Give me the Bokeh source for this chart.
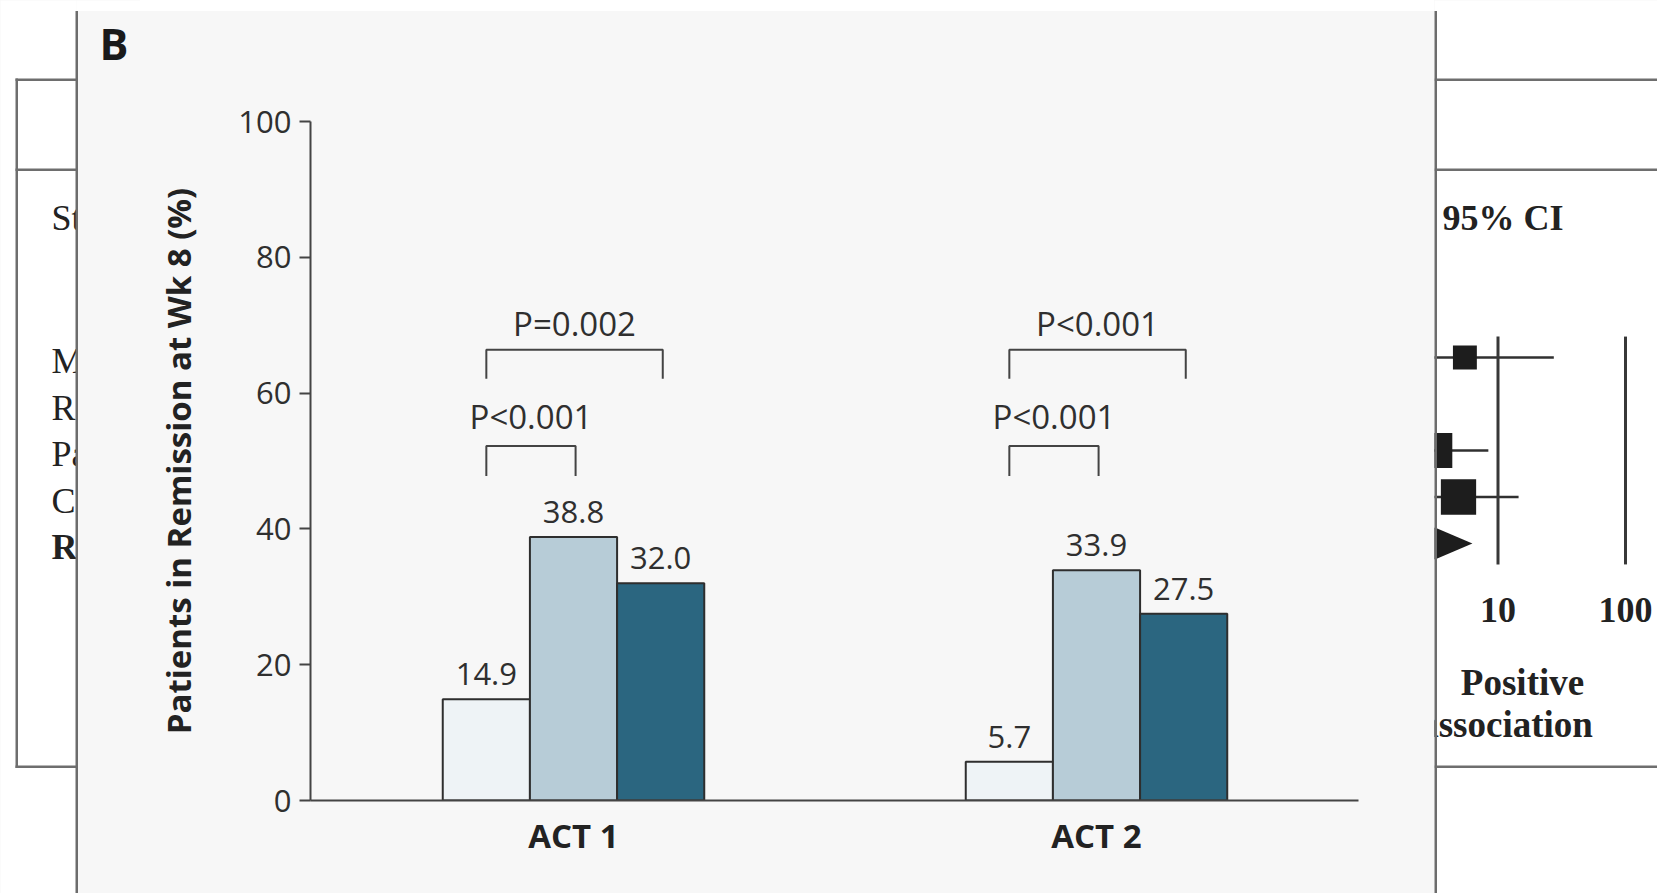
from bokeh.plotting import figure
from bokeh.layouts import row, column
from bokeh.models import Range1d, FixedTicker, LinearScale, Spacer
from bokeh.embed import file_html
from bokeh.resources import INLINE
from bokeh.core.properties import value

# Clinical remission at week 8 (%) in the two ACT trials
trials = ["ACT 1", "ACT 2"]
placebo = [14.9, 5.7]
ifx_5mg = [38.8, 33.9]
ifx_10mg = [32.0, 27.5]
p_5mg_vs_placebo = ["P<0.001", "P<0.001"]
p_10mg_vs_placebo = ["P=0.002", "P<0.001"]
y_ticks = [0, 20, 40, 60, 80, 100]
y_title = "Patients in Remission at Wk 8 (%)"
panel_letter = "B"

# Forest plot partly hidden behind the panel
forest_header = ["Study", "95% CI"]
forest_rows = ["Moss", "Roth", "Park", "Cole", "RE"]
forest_est = [5.5, 1.8, 3.2, 4.9, 3.2]
forest_low = [1.2, 0.9, 1.3, 1.6, 1.9]
forest_high = [27.4, 3.0, 8.4, 14.5, 6.3]
forest_weight = [17, 10, 36, 37]
forest_ticks = [10, 100]
forest_note = ["Positive", "association"]

# ---- page geometry (pixels) ----
H = 893
LEFT_W = 140          # strip left of the bar panel
MAIN_W = 1294         # bar panel (y axis + plot area)
RIGHT_W = 223         # strip right of the bar panel
TOP_GAP = 11          # white band above the panel
FRAME_L = 170         # y-axis border inside the bar panel
FRAME_T = 110
FRAME_B = 93
PX_X = 523.0          # pixels per trial slot
FRAME_H = H - TOP_GAP - FRAME_T - FRAME_B
PX_Y = FRAME_H / 100.0
TEXT_DROP = 0.41      # svg text sits this many em below its requested baseline

# forest rows: row r sits at 357 + 46.5 r pixels from the top
ROW_PX, ROW0 = 46.5, 357.0
forest_y = Range1d((H - ROW0) / ROW_PX, -ROW0 / ROW_PX)

SANS = value("Open Sans")
SERIF = value("Liberation Serif")
INK = "#2f2f2f"
LINE = "#444444"
EDGE = "#6c6c6c"
RULE = "#6e6e6e"
PANEL = "#f7f7f7"
COLORS = ["#eef3f6", "#b7ccd7", "#2b6680"]


def bare(width, x_range, y_range, bg, **kw):
    f = figure(width=width, height=H, output_backend="svg", toolbar_location=None,
               x_range=x_range, y_range=y_range, x_axis_location=None,
               y_axis_location=None, min_border=0, min_border_left=0,
               min_border_right=0, min_border_top=0, min_border_bottom=0,
               outline_line_color=None, background_fill_color=bg,
               border_fill_color=bg, **kw)
    f.grid.visible = False
    return f


# ---- left strip: forest-plot margin, panel edge, panel letter ----
left = bare(LEFT_W, Range1d(0, LEFT_W), Range1d(H, 0), PANEL)
left.extra_y_ranges = {"forest": forest_y}
left.quad(left=[-5, 76], right=[76, LEFT_W + 5], top=[-5, -5],
          bottom=[H + 10, TOP_GAP - 0.5], fill_color="white", line_color=None)
left.quad(left=[15, 15, 15, 15], right=[90, 90, 90, 17.5],
          top=[78, 168, 765, 78], bottom=[80.5, 170.5, 767.5, 767.5],
          fill_color=RULE, line_color=None)
left.text(x=[51], y=[-3], text=[forest_header[0]], y_range_name="forest",
          text_font=SERIF, text_font_size="36px", text_color="#222222",
          text_baseline="middle")
rows_idx = list(range(len(forest_rows)))
left.text(x=[51] * len(rows_idx), y=[r + 0.08 for r in rows_idx],
          text=forest_rows, y_range_name="forest",
          text_font=SERIF, text_font_size="36px", text_color="#222222",
          text_font_style=["normal"] * (len(rows_idx) - 1) + ["bold"],
          text_baseline="middle")
left.quad(left=[76], right=[LEFT_W + 5], top=[TOP_GAP - 0.5], bottom=[H + 10],
          fill_color=PANEL, line_color=None)
left.quad(left=[75], right=[77.5], top=[TOP_GAP - 0.5], bottom=[H + 10],
          fill_color=EDGE, line_color=None)
left.text(x=[99], y=[61 - TEXT_DROP * 43], text=[panel_letter], text_font=SANS,
          text_font_style="bold", text_font_size="43px", text_color="#1a1a1a",
          text_baseline="alphabetic")

# ---- right strip: visible part of the forest plot ----
X0 = LEFT_W + MAIN_W                       # page x of the strip's left edge
DEC_PX, TEN_PX = 127.5, 1497.5             # pixels per decade, page x of 10
lg0 = 1 + (X0 - TEN_PX) / DEC_PX
lg1 = 1 + (X0 + RIGHT_W - TEN_PX) / DEC_PX
right = bare(RIGHT_W, Range1d(10 ** lg0, 10 ** lg1), forest_y, "white",
             x_axis_type="log")
right.extra_x_ranges = {"px": Range1d(X0, X0 + RIGHT_W)}
right.extra_x_scales = {"px": LinearScale()}
right.extra_y_ranges = {"px": Range1d(H, 0)}
right.extra_y_scales = {"px": LinearScale()}

right.quad(left=[X0] * 3, right=[X0 + RIGHT_W + 5] * 3, top=[78, 168, 765],
           bottom=[80.5, 170.5, 767.5], fill_color=RULE, line_color=None,
           x_range_name="px", y_range_name="px")
study_rows = rows_idx[:-1]
right.segment(x0=forest_low[:-1], y0=study_rows, x1=forest_high[:-1],
              y1=study_rows, line_color="#303030", line_width=2.5)
right.scatter(x=forest_est[:-1], y=study_rows,
              size=[5.8 * w ** 0.5 for w in forest_weight], marker="square",
              fill_color="#1d1d1d", line_color=None)
r_sum = rows_idx[-1]
right.patch(x=[forest_low[-1], forest_est[-1], forest_high[-1], forest_est[-1]],
            y=[r_sum, r_sum - 0.345, r_sum, r_sum + 0.345],
            fill_color="#1d1d1d", line_color=None)
right.segment(x0=forest_ticks, y0=-0.45, x1=forest_ticks, y1=4.45,
              line_color="#383838", line_width=3)
right.text(x=forest_ticks, y=[5.44] * len(forest_ticks),
           text=[str(t) for t in forest_ticks], text_font=SERIF,
           text_font_style="bold", text_font_size="36px", text_color="#222222",
           text_align="center", text_baseline="middle")
right.text(x=[1442], y=[-3], text=[forest_header[1]], x_range_name="px",
           text_font=SERIF, text_font_style="bold", text_font_size="36px",
           text_color="#222222", text_baseline="middle")
right.text(x=[1522, 1506], y=[682, 724], text=forest_note,
           x_range_name="px", y_range_name="px", text_font=SERIF,
           text_font_style="bold", text_font_size="37px", text_color="#222222",
           text_align="center", text_baseline="middle")
right.quad(left=[X0 - 5], right=[X0 + 2.5], top=[TOP_GAP - 0.5], bottom=[H + 10],
           fill_color=EDGE, line_color=None, x_range_name="px",
           y_range_name="px")

# ---- bar panel ----
x_start = 1 - (573 - (LEFT_W + FRAME_L)) / PX_X
p = figure(width=MAIN_W, height=H - TOP_GAP, output_backend="svg",
           toolbar_location=None,
           x_range=Range1d(x_start, x_start + (MAIN_W - FRAME_L) / PX_X),
           y_range=Range1d(0, 100),
           min_border_left=FRAME_L, min_border_right=0,
           min_border_top=FRAME_T, min_border_bottom=FRAME_B,
           border_fill_color=PANEL, background_fill_color=PANEL,
           outline_line_color=None)
p.xgrid.visible = False
p.ygrid.visible = False

bw = 1.0 / 6.0
centers = [i + 1 for i in range(len(trials))]
series = [placebo, ifx_5mg, ifx_10mg]
VAL_FS = 31
lift = (12.5 + TEXT_DROP * VAL_FS) / PX_Y  # gap between bar top and its label
for k, (vals, color) in enumerate(zip(series, COLORS)):
    xs = [c + (k - 1) * bw for c in centers]
    p.vbar(x=xs, top=vals, width=bw, bottom=0, fill_color=color,
           line_color="#2e2e2e", line_width=2)
    p.text(x=xs, y=[v + lift for v in vals], text=[f"{v:.1f}" for v in vals],
           text_font=SANS, text_font_size=f"{VAL_FS}px", text_color=INK,
           text_align="center", text_baseline="alphabetic")

# significance brackets: placebo vs 5 mg (inner) and placebo vs 10 mg (outer)
P_FS = 33
for labels, right_k, top, leg, gap in [(p_5mg_vs_placebo, 0, 52.2, 4.4, 2.4),
                                       (p_10mg_vs_placebo, 1, 66.4, 4.3, 1.8)]:
    xs_list, ys_list, mids = [], [], []
    for c in centers:
        x0, x1 = c - bw, c + right_k * bw + 0.004
        xs_list.append([x0, x0, x1, x1])
        ys_list.append([top - leg, top, top, top - leg])
        mids.append((x0 + x1) / 2)
    p.multi_line(xs=xs_list, ys=ys_list, line_color=LINE, line_width=2)
    p.text(x=mids, y=[top + gap + TEXT_DROP * P_FS / PX_Y] * len(mids),
           text=labels, text_font=SANS, text_font_size=f"{P_FS}px",
           text_color=INK, text_align="center", text_baseline="alphabetic")

ya = p.yaxis[0]
ya.ticker = FixedTicker(ticks=y_ticks)
ya.major_tick_out = 11
ya.major_tick_in = 0
ya.minor_tick_out = 0
ya.minor_tick_in = 0
ya.axis_line_width = 2
ya.axis_line_color = LINE
ya.major_tick_line_width = 2
ya.major_tick_line_color = LINE
ya.major_label_standoff = 8
ya.major_label_text_font = "Open Sans"
ya.major_label_text_font_size = "31px"
ya.major_label_text_color = INK
ya.axis_label = y_title
ya.axis_label_standoff = 34
ya.axis_label_text_font = "Open Sans"
ya.axis_label_text_font_style = "bold"
ya.axis_label_text_font_size = "33px"
ya.axis_label_text_color = "#222222"

xa = p.xaxis[0]
xa.ticker = FixedTicker(ticks=centers)
xa.major_label_overrides = {c: t for c, t in zip(centers, trials)}
xa.bounds = (x_start, 2.5)
xa.major_tick_out = 0
xa.major_tick_in = 0
xa.minor_tick_out = 0
xa.minor_tick_in = 0
xa.axis_line_width = 2
xa.axis_line_color = LINE
xa.major_label_standoff = 12
xa.major_label_text_font = "Open Sans"
xa.major_label_text_font_style = "bold"
xa.major_label_text_font_size = "33px"
xa.major_label_text_color = "#222222"

# the panel colour behind the strips hides hairline seams between them;
# the band above the panel stays white
top_band = Spacer(width=MAIN_W, height=TOP_GAP,
                  styles={"background-color": "white"})
middle = column(top_band, p, spacing=0,
                styles={"background-color": PANEL})
page = row(left, middle, right, spacing=0,
           styles={"background-color": PANEL})

open("out.html", "w").write(file_html(page, INLINE))
